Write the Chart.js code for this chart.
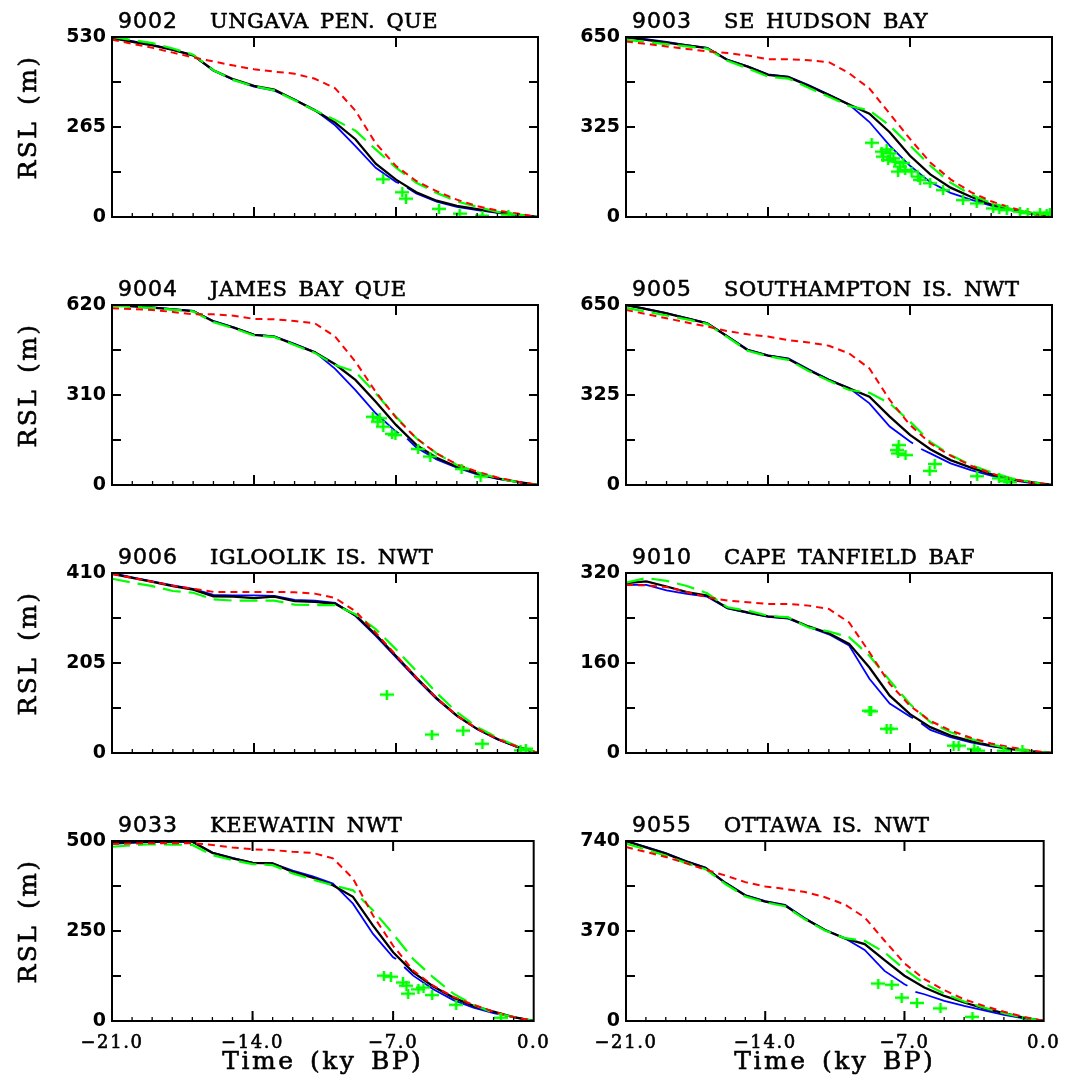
<!DOCTYPE html>
<html><head><meta charset="utf-8">
<script src="https://cdn.jsdelivr.net/npm/chart.js@4/dist/chart.umd.min.js"></script>
<style>
body{margin:0;background:#fff}
#wrap{position:relative;width:1070px;height:1088px;background:#fff;overflow:hidden}
#wrap canvas{position:absolute}
</style>
</head><body><div id="wrap"></div>
<script>
// ---- data ----
const timeKy = [-21,-20,-19,-18,-17,-16,-15,-14,-13,-12,-11,-10,-9,-8,-7,-6,-5,-4,-3,-2,-1,0];
const siteIds = ['9002','9003','9004','9005','9006','9010','9033','9055'];
const siteNames = ['UNGAVA PEN. QUE','SE HUDSON BAY','JAMES BAY QUE','SOUTHAMPTON IS. NWT','IGLOOLIK IS. NWT','CAPE TANFIELD BAF','KEEWATIN NWT','OTTAWA IS. NWT'];
const yTicks = [[0,265,530],[0,325,650],[0,310,620],[0,325,650],[0,205,410],[0,160,320],[0,250,500],[0,370,740]];
const xTicks = [-21,-14,-7,0];
const yTitle = 'RSL (m)';
const xTitle = 'Time (ky BP)';

const blackRSL = [
 [527,516,505,492,476,432,405,386,375,345,314,278,229,157,110,73,48,33,23,14,7,0],
 [649,640,630,620,610,567,543,513,505,474,440,406,373,306,221,154,106,73,45,27,12,0],
 [620,615,611,605,599,563,542,517,511,484,457,416,362,287,207,138,94,63,40,23,11,0],
 [650,635,620,602,584,536,487,467,455,415,379,349,319,247,181,129,90,63,39,20,10,0],
 [408,399,390,380,372,357,356,353,356,346,344,340,314,270,221,172,125,85,55,32,14,0],
 [302,305,296,286,280,258,250,243,240,225,213,194,152,102,69,46,31,21,13,7,3,0],
 [495,497,498,498,498,467,452,439,438,414,398,377,345,265,191,135,96,65,42,26,11,0],
 [740,714,688,656,629,567,516,491,475,420,374,340,316,250,186,138,103,76,52,32,14,0]
];
const blueRSL = [
 [530,518,507,493,476,431,404,384,372,346,315,270,209,145,103,69,45,30,20,12,5,0],
 [650,642,632,621,611,568,544,515,507,476,442,406,343,258,185,126,87,63,41,24,11,0],
 [620,617,612,606,600,565,543,518,512,486,458,400,327,247,184,129,88,60,37,21,10,0],
 [650,636,621,603,585,537,489,468,457,418,381,350,295,211,157,114,78,54,34,18,7,0],
 [410,400,391,382,374,360,359,359,358,349,347,342,312,267,218,169,123,84,54,31,13,0],
 [299,299,289,283,278,257,249,242,239,224,211,191,132,88,65,41,28,19,12,7,3,0],
 [492,495,497,498,498,468,453,440,438,418,402,382,326,242,177,126,88,58,37,22,11,0],
 [740,716,690,658,631,569,518,493,477,422,375,340,292,206,151,110,83,62,44,25,11,0]
];
const blueGapT = [-6.85,-6.45];
const blueGapRSL = [[100,86],null,[177,160],[150,130],null,[62,53],[172,150],[145,120]];
const greenRSL = [
 [530,521,512,496,478,432,403,385,373,344,314,286,254,199,145,101,71,46,30,15,7,0],
 [640,632,624,616,608,564,537,507,500,467,434,401,385,330,258,185,124,81,51,29,12,0],
 [618,614,610,604,598,561,540,515,510,482,455,413,390,316,235,161,109,69,44,23,10,0],
 [640,626,612,598,582,534,485,465,452,412,376,343,333,295,229,156,108,72,46,24,10,0],
 [397,388,380,369,365,350,347,347,347,338,337,337,316,282,236,187,137,93,59,35,15,0],
 [303,311,306,297,284,259,253,244,241,223,216,206,173,129,87,55,37,25,15,8,3,0],
 [484,488,491,490,489,461,447,436,433,410,393,377,363,307,242,172,121,76,45,23,11,0],
 [729,705,680,650,624,563,512,488,472,418,372,341,330,282,213,154,113,80,55,32,14,0]
];
const redRSL = [
 [522,510,498,484,470,458,446,435,428,422,407,379,313,217,150,106,76,51,32,19,10,0],
 [634,625,616,607,598,592,583,570,570,566,559,519,464,373,282,197,136,90,57,33,15,0],
 [609,606,603,596,588,588,583,572,571,565,557,511,425,321,232,161,109,71,46,26,11,0],
 [632,617,602,587,572,556,544,536,523,515,503,475,421,307,217,150,106,70,42,22,8,0],
 [408,399,390,381,374,367,367,367,367,366,363,353,323,274,223,172,125,85,55,32,14,0],
 [299,298,295,286,277,271,268,265,265,262,256,232,179,123,84,57,40,27,17,10,4,0],
 [492,493,494,494,494,489,482,477,475,470,467,452,396,293,209,140,98,67,45,26,11,0],
 [715,695,674,649,622,598,571,553,543,530,509,479,426,330,237,172,127,89,62,38,17,0]
];
const obsTime = [
 [-7.63,-6.69,-6.51,-4.88,-3.86,-2.74,-1.46],
 [-8.89,-8.4,-8.15,-8.33,-7.98,-8.08,-7.82,-7.74,-7.49,-7.59,-7.33,-7.24,-6.92,-6.6,-6.5,-6.01,-5.37,-4.39,-3.71,-2.9,-2.6,-2.23,-1.58,-1.2,-0.59,-0.26,-0.1],
 [-8.14,-7.8,-7.9,-7.63,-7.2,-7.03,-5.91,-5.31,-3.77,-2.83],
 [-7.56,-7.64,-7.59,-7.22,-5.78,-6.03,-3.69,-2.61,-2.22,-2.05],
 [-7.45,-5.23,-3.69,-2.74,-0.86,-0.6],
 [-8.92,-9.0,-8.15,-7.95,-4.85,-4.6,-3.83,-3.66,-2.39,-1.46],
 [-7.46,-7.11,-6.51,-6.34,-6.25,-5.74,-5.49,-5.06,-3.86,-1.63],
 [-8.32,-7.64,-7.14,-6.37,-5.19,-3.58,-1.03]
];
const obsRSL = [
 [111,73,54,24,10,4,7],
 [268,236,244,218,230,206,212,200,182,164,195,170,164,146,134,122,97,61,49,31,28,25,19,14,16,11,16],
 [235,230,218,201,176,172,124,98,55,29],
 [144,126,114,108,76,51,32,24,14,10],
 [133,42,51,21,6,10],
 [74,75,43,43,13,13,7,4,4,5],
 [126,123,107,98,76,88,93,72,45,9],
 [154,149,96,74,52,17,0]
];

// ---- helpers ----
const GREEN = '#00ff00';
const crossImg = (function(){
  const c = document.createElement('canvas'); c.width = 14; c.height = 10;
  const g = c.getContext('2d'); g.fillStyle = GREEN;
  g.fillRect(0, 3.75, 14, 2.5); g.fillRect(5.75, 0, 2.5, 10);
  return c;
})();
function curve(vals){ return timeKy.map((t,k)=>({x:t, y:vals[k]})); }
function blueCurve(i){
  const pts = curve(blueRSL[i]);
  const g = blueGapRSL[i];
  if (!g) return pts;
  const out = [];
  for (const p of pts){
    if (p.x === -6){
      out.push({x:blueGapT[0], y:g[0]});
      out.push({x:(blueGapT[0]+blueGapT[1])/2, y:null});
      out.push({x:blueGapT[1], y:g[1]});
    }
    out.push(p);
  }
  return out;
}
function fmtX(v){ return (v < 0 ? '\u2212' : '') + Math.abs(v).toFixed(1); }

// serif texts are drawn wide-spaced and slightly heavier, like the original plotting font
function patchSpacing(ctx){
  if (ctx.__spaced) return;
  const orig = ctx.fillText;
  ctx.fillText = function(text, x, y, mw){
    if (!this.__manual){
      const serif = /Serif/.test(this.font);
      const m = /(\d+(?:\.\d+)?)px/.exec(this.font);
      const size = m ? parseFloat(m[1]) : 12;
      this.letterSpacing = serif ? (size < 20 ? '1.6px' : '2.5px') : '0px';
      this.wordSpacing = serif ? '4px' : '0px';
      if (serif){
        const lw = this.lineWidth, ss = this.strokeStyle, lj = this.lineJoin;
        this.lineWidth = 0.6; this.strokeStyle = this.fillStyle; this.lineJoin = 'round';
        if (mw === undefined) this.strokeText(text, x, y); else this.strokeText(text, x, y, mw);
        this.lineWidth = lw; this.strokeStyle = ss; this.lineJoin = lj;
      }
    }
    return mw === undefined ? orig.call(this, text, x, y) : orig.call(this, text, x, y, mw);
  };
  ctx.__spaced = true;
}
function heavyText(ctx, text, x, y, w){
  ctx.lineWidth = w; ctx.strokeStyle = ctx.fillStyle; ctx.lineJoin = 'round';
  ctx.strokeText(text, x, y); ctx.fillText(text, x, y);
}

const framePlugin = {
  id: 'frame',
  beforeDraw(chart){ patchSpacing(chart.ctx); },
  afterDatasetsDraw(chart){
    const ctx = chart.ctx, a = chart.chartArea, xs = chart.scales.x, ys = chart.scales.y;
    ctx.save();
    ctx.strokeStyle = '#000'; ctx.lineWidth = 2;
    ctx.strokeRect(a.left, a.top, a.right - a.left, a.bottom - a.top);
    ctx.beginPath();
    [0.25,0.5,0.75].forEach(f=>{
      const py = ys.getPixelForValue(ys.min + f*(ys.max - ys.min));
      ctx.moveTo(a.left, py); ctx.lineTo(a.left + 9, py);
      ctx.moveTo(a.right, py); ctx.lineTo(a.right - 9, py);
    });
    xTicks.slice(1, -1).forEach(v=>{
      const px = xs.getPixelForValue(v);
      ctx.moveTo(px, a.bottom); ctx.lineTo(px, a.bottom - 10);
      ctx.moveTo(px, a.top); ctx.lineTo(px, a.top + 10);
    });
    ctx.stroke();
    ctx.beginPath(); ctx.lineWidth = 1.3;
    for (let t = xs.min + 1; t < xs.max; t++){
      const px = xs.getPixelForValue(t);
      ctx.moveTo(px, a.bottom); ctx.lineTo(px, a.bottom - 4);
    }
    ctx.stroke();
    ctx.restore();
  },
  afterDraw(chart){
    const ctx = chart.ctx, a = chart.chartArea, i = chart.options.panelIndex;
    ctx.save();
    ctx.__manual = true;
    ctx.fillStyle = '#000'; ctx.textBaseline = 'alphabetic'; ctx.textAlign = 'left';
    ctx.letterSpacing = '1px'; ctx.wordSpacing = '0px';
    ctx.font = '22px "DejaVu Sans"';
    heavyText(ctx, siteIds[i], a.left + 6, a.top - 9, 0.5);
    ctx.letterSpacing = '0.5px'; ctx.wordSpacing = '4px';
    ctx.font = '21px "DejaVu Serif"';
    heavyText(ctx, siteNames[i], a.left + 98, a.top - 9, 0.6);
    if (i % 2 === 0){
      ctx.letterSpacing = '2.5px'; ctx.wordSpacing = '4px';
      ctx.font = '25px "DejaVu Serif"';
      ctx.textAlign = 'center'; ctx.textBaseline = 'middle';
      ctx.translate(29, (a.top + a.bottom) / 2 - 10);
      ctx.rotate(-Math.PI / 2);
      heavyText(ctx, yTitle, 0, 0, 0.6);
    }
    ctx.__manual = false;
    ctx.restore();
  }
};

const wrap = document.getElementById('wrap');
for (let i = 0; i < 8; i++){
  const col = i % 2, row = Math.floor(i / 2);
  const left = col ? 545 : 0, width = col ? 525 : 560;
  const top = row * 268, height = row === 3 ? 284 : 268;
  const cv = document.createElement('canvas');
  cv.width = width; cv.height = height;
  cv.style.left = left + 'px'; cv.style.top = top + 'px';
  cv.style.width = width + 'px'; cv.style.height = height + 'px';
  wrap.appendChild(cv);
  const bottomRow = row === 3;
  new Chart(cv, {
    type: 'line',
    data: { datasets: [
      { label:'obs', data: obsTime[i].map((t,k)=>({x:t, y:obsRSL[i][k]})), showLine:false,
        pointStyle: crossImg, pointRadius: 6, borderColor: GREEN, backgroundColor: GREEN },
      { label:'red', data: curve(redRSL[i]), borderColor:'#ff0000', borderWidth:2, borderDash:[7,5], pointRadius:0, tension:0 },
      { label:'green', data: curve(greenRSL[i]), borderColor: GREEN, borderWidth:2.2, borderDash:[18,8], pointRadius:0, tension:0 },
      { label:'black', data: curve(blackRSL[i]), borderColor:'#000000', borderWidth:2.3, pointRadius:0, tension:0 },
      { label:'blue', data: blueCurve(i), borderColor:'#0000ff', borderWidth:1.8, pointRadius:0, tension:0, spanGaps:false }
    ]},
    options: {
      panelIndex: i,
      responsive: false, animation: false, devicePixelRatio: 1,
      layout: { padding: { left: 0, right: col ? 18 : 22, top: 37, bottom: 0 } },
      plugins: { legend: { display: false }, tooltip: { enabled: false }, title: { display: false } },
      scales: {
        x: {
          type: 'linear', min: -21, max: 0, position: 'bottom',
          grid: { display: false, drawTicks: false }, border: { display: false },
          ticks: { display: bottomRow, autoSkip: false, maxRotation: 0, color: '#000', padding: 12,
                   font: { family: 'DejaVu Serif', size: 18 }, callback: v => fmtX(v) },
          afterBuildTicks: s => { s.ticks = xTicks.map(v => ({ value: v })); },
          afterFit: s => { s.height = height - 217; },
          title: { display: bottomRow, text: xTitle, color: '#000',
                   font: { family: 'DejaVu Serif', size: 25, lineHeight: 1 }, padding: { top: 0, bottom: 13 } }
        },
        y: {
          type: 'linear', min: 0, max: yTicks[i][2], position: 'left',
          grid: { display: false, drawTicks: false }, border: { display: false },
          ticks: { autoSkip: false, color: '#000', padding: 6,
                   font: { family: 'DejaVu Sans', size: 19, weight: 'bold' }, callback: v => String(v) },
          afterBuildTicks: s => { s.ticks = yTicks[i].map(v => ({ value: v })); },
          afterFit: s => { s.width = col ? 81 : 112; }
        }
      }
    },
    plugins: [framePlugin]
  });
}
</script>
</body></html>
